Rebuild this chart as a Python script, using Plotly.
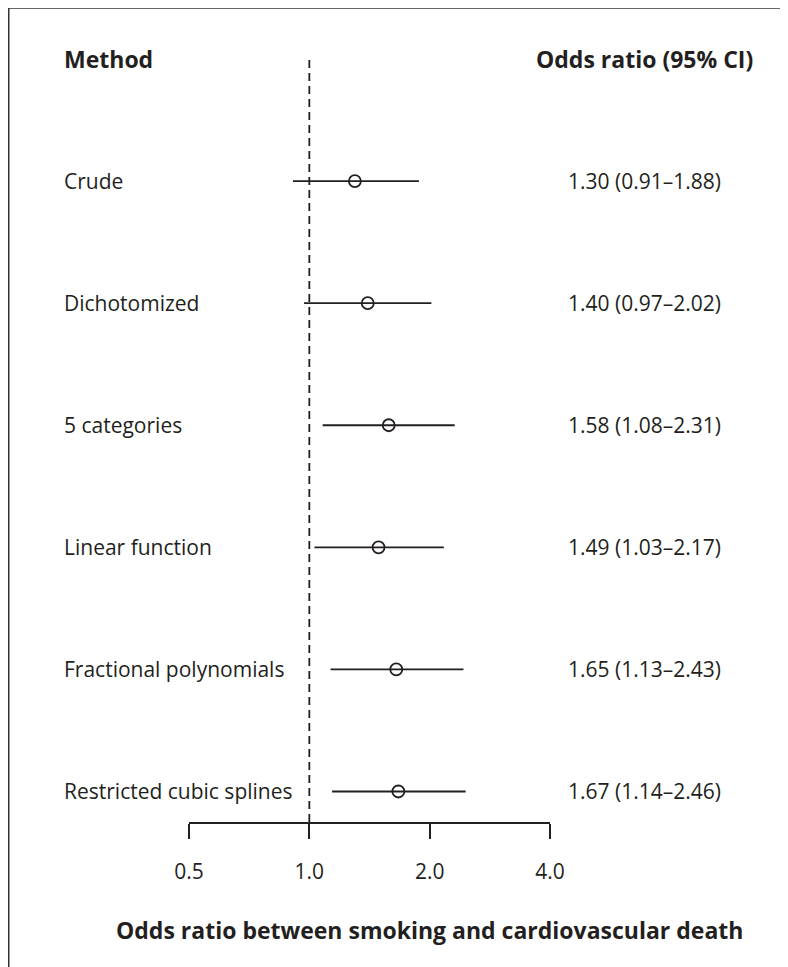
import plotly.graph_objects as go
import math

methods = ["Crude", "Dichotomized", "5 categories", "Linear function",
           "Fractional polynomials", "Restricted cubic splines"]
odds = [1.30, 1.40, 1.58, 1.49, 1.65, 1.67]
ci_low = [0.91, 0.97, 1.08, 1.03, 1.13, 1.14]
ci_high = [1.88, 2.02, 2.31, 2.17, 2.43, 2.46]
tick_vals = [0.5, 1.0, 2.0, 4.0]
tick_text = ["0.5", "1.0", "2.0", "4.0"]
rows = [6, 5, 4, 3, 2, 1]

INK = "#231f20"
FONT = "Open Sans"
FS = 21
FSB = 23
LW = 1.8

# page has an 8px body margin: figure coordinates = page coordinates - 8
W, H = 780, 959
L, R = 181, 542
T, B = 51, 814
pw, ph = R - L, B - T

def px(x):
    return (x - L) / pw

def py(y):
    return (B - y) / ph

fig = go.Figure()

# reference line at OR = 1
fig.add_trace(go.Scatter(x=[1, 1], y=[0.75, 7.0], mode="lines",
                         line=dict(color=INK, width=LW, dash="8px,5px"),
                         hoverinfo="skip", showlegend=False, cliponaxis=False))

fig.add_trace(go.Scatter(
    x=odds, y=rows, mode="markers",
    marker=dict(symbol="circle-open", size=12, color=INK, line=dict(width=LW, color=INK)),
    error_x=dict(type="data", symmetric=False,
                 array=[h - o for h, o in zip(ci_high, odds)],
                 arrayminus=[o - l for o, l in zip(odds, ci_low)],
                 width=0, thickness=LW, color=INK),
    showlegend=False, cliponaxis=False))

ann = []
ann.append(dict(text="<b>Method</b>", x=px(54), y=7, xref="paper", yref="y",
                xanchor="left", yanchor="middle", showarrow=False,
                font=dict(family=FONT, size=FSB, color=INK)))
ann.append(dict(text="<b>Odds ratio (95% CI)</b>", x=px(747), y=7, xref="paper", yref="y",
                xanchor="right", yanchor="middle", showarrow=False,
                font=dict(family=FONT, size=FSB, color=INK)))
for m, o, l, h, r in zip(methods, odds, ci_low, ci_high, rows):
    ann.append(dict(text=m, x=px(54), y=r, xref="paper", yref="y",
                    xanchor="left", yanchor="middle", showarrow=False,
                    font=dict(family=FONT, size=FS, color=INK)))
    ann.append(dict(text=f"{o:.2f} ({l:.2f}\u2013{h:.2f})", x=px(715), y=r,
                    xref="paper", yref="y", xanchor="right", yanchor="middle",
                    showarrow=False, font=dict(family=FONT, size=FS, color=INK)))
ann.append(dict(text="<b>Odds ratio between smoking and cardiovascular death</b>",
                x=px(421), y=py(922), xref="paper", yref="paper",
                xanchor="center", yanchor="middle", showarrow=False,
                font=dict(family=FONT, size=FSB, color=INK)))

shapes = [
    dict(type="line", xref="paper", yref="paper", x0=px(0.75), x1=px(W + 10),
         y0=py(0.0), y1=py(0.0), line=dict(color="#333333", width=1.5)),
    dict(type="line", xref="paper", yref="paper", x0=px(0.75), x1=px(0.75),
         y0=py(0.0), y1=py(H + 10), line=dict(color="#333333", width=1.5)),
]

fig.update_layout(
    width=W, height=H,
    margin=dict(l=L, r=W - R, t=T, b=H - B, pad=0),
    paper_bgcolor="white", plot_bgcolor="white",
    annotations=ann, shapes=shapes,
    font=dict(family=FONT, size=FS, color=INK),
    xaxis=dict(type="log", range=[math.log10(0.5), math.log10(4.0)],
               tickvals=tick_vals, ticktext=tick_text,
               showline=True, linecolor=INK, linewidth=LW,
               ticks="outside", ticklen=15, tickwidth=LW, tickcolor=INK,
               showgrid=False, zeroline=False, ticklabelstandoff=15,
               tickfont=dict(family=FONT, size=FS, color=INK)),
    yaxis=dict(range=[0.75, 7.0], visible=False, showgrid=False, zeroline=False),
)

fig.write_html("out.html")
